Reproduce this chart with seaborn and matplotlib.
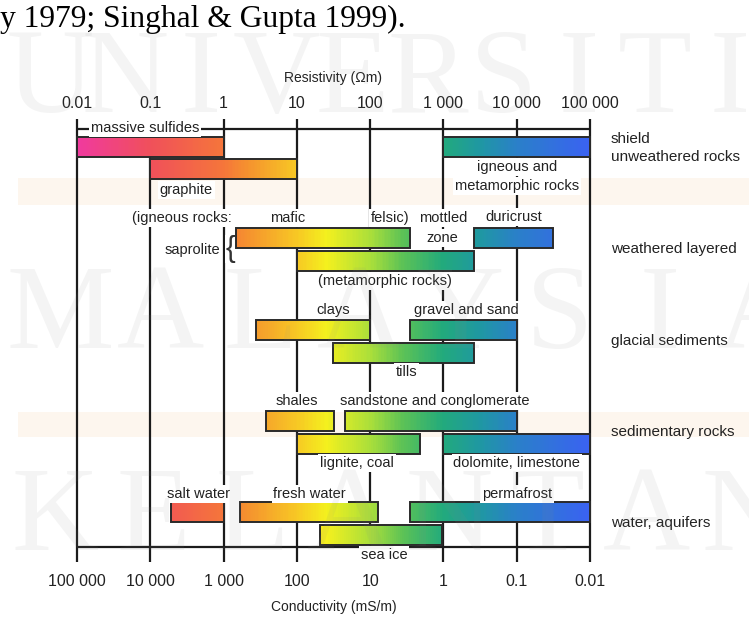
import numpy as np
import matplotlib
matplotlib.use("Agg")
import matplotlib.pyplot as plt
import seaborn as sns
from matplotlib.colors import LinearSegmentedColormap

# ---------------- data ----------------
group_names = ["shield\nunweathered rocks", "weathered layered", "glacial sediments",
               "sedimentary rocks", "water, aquifers"]
bar_names = ["massive sulfides", "igneous and metamorphic rocks", "graphite",
             "saprolite (igneous rocks)", "duricrust", "saprolite (metamorphic rocks)",
             "clays", "gravel and sand", "tills",
             "shales", "sandstone and conglomerate", "lignite, coal", "dolomite, limestone",
             "salt water", "fresh water", "permafrost", "sea ice"]
bar_low = [0.01, 1000, 0.1, 1.5, 2600, 10, 2.8, 350, 31, 3.8, 45, 10, 1000, 0.19, 1.7, 350, 21]
bar_high = [1, 100000, 10, 350, 31000, 2600, 100, 10000, 2600, 32, 10000, 480, 100000, 1, 128, 100000, 950]
bar_group = [0, 0, 0, 1, 1, 1, 2, 2, 2, 3, 3, 3, 3, 4, 4, 4, 4]
bar_slot = [0, 0, 1, 0, 0, 1, 0, 0, 1, 0, 0, 1, 1, 0, 0, 0, 1]
resistivity_ticks = [0.01, 0.1, 1, 10, 100, 1000, 10000, 100000]
resistivity_labels = ["0.01", "0.1", "1", "10", "100", "1 000", "10 000", "100 000"]
conductivity_labels = ["100 000", "10 000", "1 000", "100", "10", "1", "0.1", "0.01"]

# annotation texts (text, resistivity position, pixel row)
notes = [("massive sulfides", 0.085, 128), ("igneous and", 10000, 167),
         ("metamorphic rocks", 10000, 186), ("graphite", 0.31, 190),
         ("(igneous rocks:", 0.27, 218), ("mafic", 7.6, 218), ("felsic)", 185, 218),
         ("mottled", 1000, 218), ("zone", 950, 238), ("duricrust", 9000, 217),
         ("saprolite", 0.37, 250), ("(metamorphic rocks)", 158, 281),
         ("clays", 31, 310), ("gravel and sand", 2040, 310), ("tills", 317, 372),
         ("shales", 10, 401), ("sandstone and conglomerate", 767, 401),
         ("lignite, coal", 66, 463), ("dolomite, limestone", 10000, 463),
         ("salt water", 0.45, 494), ("fresh water", 15, 494), ("permafrost", 10000, 494),
         ("sea ice", 155, 555)]

# ---------------- layout ----------------
W, H = 749, 619
X0, DEC = 77, 73.29           # pixel of 0.01 and pixels per decade
group_top = [136.5, 228, 320, 411, 502]
slot_step = 22.8
bar_h = 20
top_line, bottom_line = 129, 547
grid_top, grid_bottom = 119, 562

sns.set_theme(style="white")
plt.rcParams["font.family"] = ["Liberation Sans", "DejaVu Sans"]

fig = plt.figure(figsize=(W / 100, H / 100), dpi=100)
ax = fig.add_axes([0, 0, 1, 1])
ax.set_xscale("log")
ax.set_xlim(10 ** (-2 - X0 / DEC), 10 ** (-2 + (W - X0) / DEC))
ax.set_ylim(H, 0)
ax.axis("off")

def px(xp):
    return 10 ** ((xp - X0) / DEC - 2)

cmap = LinearSegmentedColormap.from_list("res", [
    (0.0, "#f03a9e"), (1 / 7, "#f0505a"), (2 / 7, "#f5763a"), (2.3 / 7, "#f5902f"),
    (3 / 7, "#f7c824"), (3.4 / 7, "#f4f01e"), (4 / 7, "#abdf3a"), (4.45 / 7, "#5cc256"),
    (5 / 7, "#22aa7c"), (5.5 / 7, "#1f98a2"), (6 / 7, "#2a80c8"), (1.0, "#3a62f2")])

line_c = "#1b1b1b"

# faint background bands of the page
for y0, y1 in [(178, 205), (412, 437)]:
    ax.fill_between([px(18), px(W)], y0, y1, color="#f7c08a", alpha=0.14, lw=0, zorder=0)

# grid
ax.vlines(resistivity_ticks, grid_top, grid_bottom, color=line_c, lw=1.6, zorder=1)
ax.hlines([top_line, bottom_line], resistivity_ticks[0], resistivity_ticks[-1],
          color=line_c, lw=1.6, zorder=1)

# bars
for lo, hi, g, s in zip(bar_low, bar_high, bar_group, bar_slot):
    top = group_top[g] + s * slot_step
    xs = np.logspace(np.log10(lo), np.log10(hi), 120)
    z = np.log10(np.sqrt(xs[:-1] * xs[1:]))[None, :]
    ax.pcolormesh(xs, [top, top + bar_h], z, cmap=cmap, vmin=-2, vmax=5,
                  shading="flat", linewidth=0, antialiased=False, zorder=3)
    ax.barh(top + bar_h / 2, hi - lo, left=lo, height=bar_h, fill=False,
            edgecolor="#2a2a2a", linewidth=1.4, zorder=4)

# tick labels
for t, lab in zip(resistivity_ticks, resistivity_labels):
    ax.text(t, 103, lab, ha="center", va="center", fontsize=11.5, color="#222222")
for t, lab in zip(resistivity_ticks, conductivity_labels):
    ax.text(t, 582, lab, ha="center", va="center", fontsize=11.5, color="#222222")
ax.text(px(333), 78, "Resistivity (Ωm)", ha="center", va="center", fontsize=10,
        color="#222222")
ax.text(px(334), 607, "Conductivity (mS/m)", ha="center", va="center", fontsize=10,
        color="#222222")

# annotations
for txt, xv, yv in notes:
    ax.text(xv, yv, txt, ha="center", va="center", fontsize=10.5, color="#222222",
            zorder=5, bbox=dict(boxstyle="square,pad=0.12", fc="white", ec="none"))
ax.text(px(230), 249, "{", ha="center", va="center", fontsize=21, color="#333333",
        fontweight="light", zorder=5,
        bbox=dict(boxstyle="square,pad=0.0", fc="white", ec="none"))

# group labels
for g, name in enumerate(group_names):
    yc = group_top[g] + (slot_step + bar_h) / 2
    if "\n" in name:
        yc -= 10
    ax.text(px(611), yc, name, ha="left", va="center", fontsize=11, color="#222222",
            linespacing=1.35)

# top citation text
ax.text(px(0), 27, "y 1979; Singhal & Gupta 1999).", ha="left", va="baseline",
        fontsize=22.7, family=["Liberation Serif", "DejaVu Serif"], color="black")

# watermark
words = [("UNIVERSITI", 112, 50, 730), ("MALAYSIA", 348, 60, 760), ("KELANTAN", 550, 55, 745)]
for word, base, xa, xb in words:
    for ch, xc in zip(word, np.linspace(xa, xb, len(word))):
        ax.text(px(xc), base, ch, ha="center", va="baseline", fontsize=87,
                family=["Liberation Serif", "DejaVu Serif"], color="#8a8a8a",
                alpha=0.09, zorder=7)

fig.savefig("out.png", dpi=100)
